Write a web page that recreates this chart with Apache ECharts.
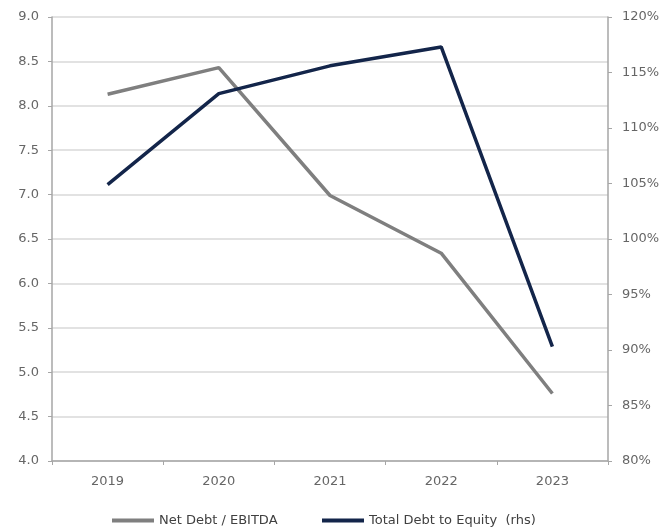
<!DOCTYPE html>
<html>
<head>
<meta charset="utf-8">
<script src="https://cdn.jsdelivr.net/npm/echarts@6/dist/echarts.min.js"></script>
<style>
  html, body { margin: 0; padding: 0; background: #fff; }
  #chart { width: 664px; height: 529px; }
</style>
</head>
<body>
<div id="chart"></div>
<script>
// Leverage metrics by year
const years = ['2019', '2020', '2021', '2022', '2023'];
const netDebtEbitda = [8.13, 8.43, 6.99, 6.34, 4.76];
const debtToEquity = [104.9, 113.1, 115.6, 117.3, 90.3];

const seriesNames = ['Net Debt / EBITDA', 'Total Debt to Equity  (rhs)'];
const grayLine = '#7f7f7f';
const navyLine = '#13254a';

const labelFont = { color: '#666666', fontSize: 13, fontFamily: 'DejaVu Sans' };
const axisGray = '#a6a6a6';

function legendAt(left, name) {
  return {
    left: left, bottom: 2, padding: 0,
    icon: 'rect', itemWidth: 42, itemHeight: 4,
    textStyle: { color: '#404040', fontSize: 13, fontFamily: 'DejaVu Sans' },
    data: [name]
  };
}

const chart = echarts.init(document.getElementById('chart'));
chart.setOption({
  animation: false,
  grid: { left: 52, right: 56, top: 17, bottom: 68 },
  legend: [legendAt(112, seriesNames[0]), legendAt(322, seriesNames[1])],
  xAxis: {
    type: 'category',
    data: years,
    boundaryGap: true,
    axisLine: { lineStyle: { color: axisGray, width: 1.5 } },
    axisTick: { show: true, length: 4, lineStyle: { color: axisGray } },
    axisLabel: Object.assign({ margin: 14 }, labelFont)
  },
  yAxis: [
    {
      type: 'value', min: 4, max: 9, interval: 0.5,
      axisLine: { show: true, lineStyle: { color: axisGray, width: 1.5 } },
      axisTick: { show: true, length: 4, lineStyle: { color: axisGray } },
      axisLabel: Object.assign({ margin: 13, formatter: v => v.toFixed(1) }, labelFont),
      splitLine: { show: true, lineStyle: { color: '#d9d9d9', width: 1.5 } }
    },
    {
      type: 'value', min: 80, max: 120, interval: 5, position: 'right',
      axisLine: { show: true, lineStyle: { color: axisGray, width: 1.5 } },
      axisTick: { show: true, length: 4, lineStyle: { color: axisGray } },
      axisLabel: Object.assign({ margin: 14, formatter: v => v + '%' }, labelFont),
      splitLine: { show: false }
    }
  ],
  series: [
    {
      name: seriesNames[0], type: 'line', data: netDebtEbitda,
      yAxisIndex: 0, symbol: 'none',
      lineStyle: { color: grayLine, width: 3.5 }, itemStyle: { color: grayLine }
    },
    {
      name: seriesNames[1], type: 'line', data: debtToEquity,
      yAxisIndex: 1, symbol: 'none',
      lineStyle: { color: navyLine, width: 3.5 }, itemStyle: { color: navyLine }
    }
  ]
});
</script>
</body>
</html>
